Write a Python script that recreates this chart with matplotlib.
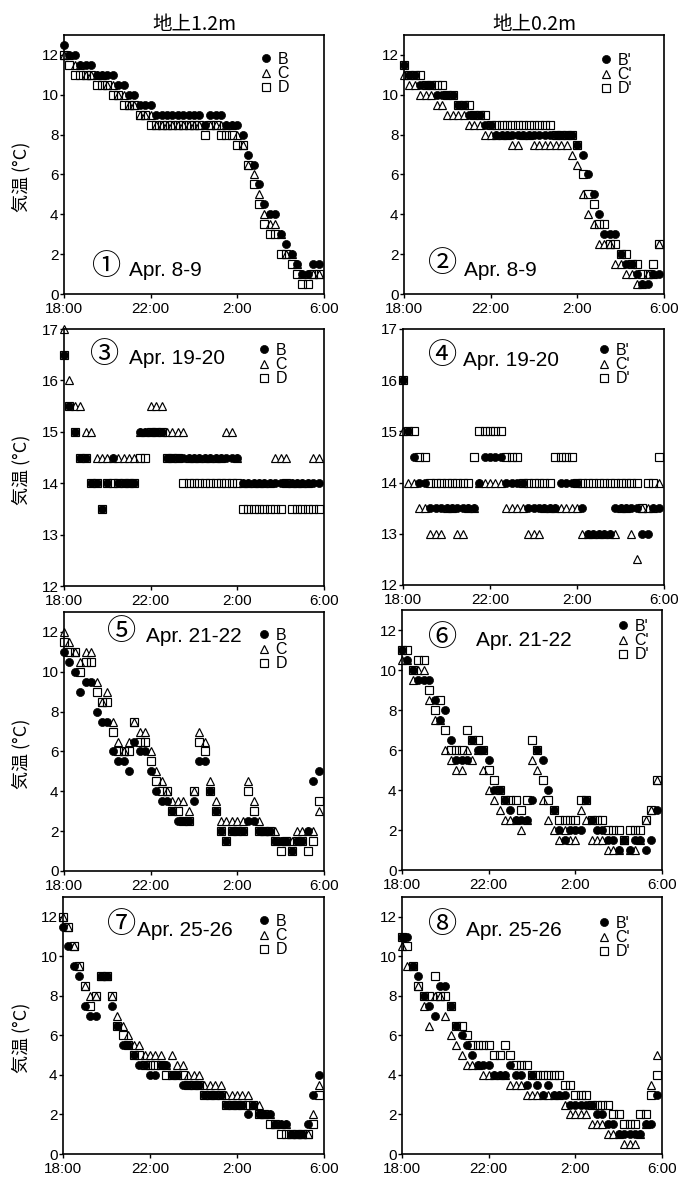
import numpy as np
import matplotlib
matplotlib.use("Agg")
import matplotlib.pyplot as plt

plt.rcParams['font.family'] = ['Liberation Sans', 'Noto Sans CJK JP', 'DejaVu Sans']

# ---- data: temperature every 15 min from 18:00 (hours since 18:00) ----
hours = np.arange(48) * 0.25
tick_pos = [0, 4, 8, 12]
tick_labels = ["18:00", "22:00", "2:00", "6:00"]

# Panel 1: Apr. 8-9, 1.2 m
B1 = [12.5,12,12,11.5,11.5,11.5,11,11,11,11,10.5,10.5,10,10,9.5,9.5,9.5,9,9,9,9,9,9,9,9,9,8.5,9,9,9,8.5,8.5,8.5,8,7,6.5,5.5,4.5,4,4,3,2.5,2,1.5,1,1,1.5,1.5]
C1 = [12,12,11.5,11.5,11,11,11,11,10.5,10.5,10,10,9.5,9.5,9,9,9,8.5,8.5,8.5,8.5,8.5,8.5,8.5,8.5,8.5,8.5,8.5,8.5,8.5,8.5,8.5,8,7.5,6.5,6,5,4,3.5,3.5,3,2,2,1.5,1,1,1,1]
D1 = [12,11.5,11,11,11,11,10.5,10.5,10.5,10,10,9.5,9.5,9.5,9,9,8.5,8.5,8.5,8.5,8.5,8.5,8.5,8.5,8.5,8.5,8,8.5,8.5,8,8,8,7.5,7.5,6.5,5.5,4.5,3.5,3,3,2,2,1.5,1,0.5,0.5,1,1]
# Panel 2: Apr. 8-9, 0.2 m
B2 = [11.5,11,11,10.5,10.5,10.5,10,10,10,10,9.5,9.5,9,9,9,8.5,8.5,8,8,8,8,8,8,8,8,8,8,8,8,8,8,8,7.5,7,6,5,4,3,3,3,2,1.5,1.5,1,0.5,0.5,1,1]
C2 = [11,10.5,10.5,10,10,10,9.5,9.5,9,9,9,9,8.5,8.5,8.5,8,8,8,8,8,7.5,7.5,8,8,7.5,7.5,7.5,7.5,7.5,7.5,7.5,7,6.5,5,4,3.5,2.5,2.5,2.5,1.5,1.5,1,1,0.5,0.5,1,1,2.5]
D2 = [11.5,11,11,11,10.5,10.5,10.5,10.5,10,10,9.5,9.5,9.5,9,9,9,8.5,8.5,8.5,8.5,8.5,8.5,8.5,8.5,8.5,8.5,8.5,8.5,8,8,8,8,7.5,6,5,4.5,3.5,3.5,2.5,2.5,2,2,1.5,1.5,1,1,1.5,2.5]
# Panel 3: Apr. 19-20, 1.2 m
B3 = [16.5,15.5,15,14.5,14.5,14,14,13.5,14,14.5,14,14,14,14,15,15,15,15,15,14.5,14.5,14.5,14.5,14.5,14.5,14.5,14.5,14.5,14.5,14.5,14.5,14.5,14.5,14,14,14,14,14,14,14,14,14,14,14,14,14,14,14]
C3 = [17,16,15.5,15.5,15,15,14.5,14.5,14.5,14.5,14.5,14.5,14.5,14.5,15,15,15.5,15.5,15.5,15,15,15,15,14.5,14.5,14.5,14.5,14.5,14.5,14.5,15,15,14.5,14,14,14,14,14,14,14.5,14.5,14.5,14,14,14,14,14.5,14.5]
D3 = [16.5,15.5,15,14.5,14.5,14,14,13.5,14,14,14,14,14,14,14.5,14.5,15,15,15,14.5,14.5,14.5,14,14,14,14,14,14,14,14,14,14,14,13.5,13.5,13.5,13.5,13.5,13.5,13.5,13.5,14,13.5,13.5,13.5,13.5,13.5,13.5]
# Panel 4: Apr. 19-20, 0.2 m
B4 = [16,15,14.5,14,14,13.5,13.5,13.5,13.5,13.5,13.5,13.5,13.5,13.5,14,14.5,14.5,14.5,14.5,14,14,14,14,13.5,13.5,13.5,13.5,13.5,13.5,14,14,14,14,13.5,13,13,13,13,13,13.5,13.5,13.5,13.5,13.5,13,13,13.5,13.5]
C4 = [15,14,14,13.5,13.5,13,13,13,13.5,13.5,13,13,13.5,13.5,14,14,14,14,14,13.5,13.5,13.5,13.5,13,13,13,13.5,13.5,13.5,13.5,13.5,13.5,13.5,13,13,13,13,13,13,13,13.5,13.5,13,12.5,13.5,13.5,13.5,14]
D4 = [16,15,15,14.5,14.5,14,14,14,14,14,14,14,14,14.5,15,15,15,15,15,14.5,14.5,14.5,14,14,14,14,14,14,14.5,14.5,14.5,14.5,14,14,14,14,14,14,14,14,14,14,14,14,13.5,14,14,14.5]
# Panel 5: Apr. 21-22, 1.2 m
B5 = [11,10.5,10,9,9.5,9.5,8,7.5,7.5,6,5.5,5.5,5,6.5,6,6,5,4,3.5,3.5,3,2.5,2.5,2.5,3.5,5.5,5.5,4,3,2,1.5,2,2,2,2.5,2.5,2,2,2,1.5,1.5,1.5,1,1.5,1.5,2,4.5,5]
C5 = [12,11.5,11,10.5,11,11,9.5,8.5,9,7.5,6.5,6,6.5,7.5,7,7,6,5,4.5,4,3.5,3.5,3.5,3,4,7,6.5,4.5,3.5,2.5,2.5,2.5,2.5,2.5,4.5,3.5,2.5,2,2,2,1.5,1.5,1.5,2,2,2,2,3]
D5 = [11.5,11,11,10,10.5,10.5,9,8.5,8.5,7,6,6,6,7.5,6.5,6.5,5.5,4.5,4,4,3,3,2.5,2.5,4,6.5,6,4,3,2,1.5,2,2,2,4,3,2,2,2,1.5,1,1.5,1,1.5,1.5,1,1.5,3.5]
# Panel 6: Apr. 21-22, 0.2 m
B6 = [11,10.5,10,9.5,9.5,9.5,8.5,7.5,8,6.5,5.5,5.5,5.5,6.5,6,6,5.5,4,4,3.5,3,2.5,2.5,2.5,3.5,6,5.5,4,3,2,1.5,2,2,2,3.5,2.5,2,2,1.5,1.5,1,1.5,1,1.5,1.5,1,1.5,3]
C6 = [10.5,10.5,9.5,10,10,8.5,7.5,7.5,6,5.5,5,5,6,5.5,6,5,4,3.5,3,2.5,2.5,2.5,2,2.5,5.5,5,3.5,2.5,2,1.5,2,1.5,1.5,3,2.5,1.5,1.5,1.5,1,1,1,1.5,1,1,1.5,2.5,3,4.5]
D6 = [11,11,10,10.5,10.5,9,8,8.5,7,6,6,6,7,6.5,6.5,6,5,4.5,4,3.5,3.5,3.5,3,3.5,6.5,6,4.5,3.5,3,2.5,2.5,2.5,2.5,3.5,3.5,2.5,2.5,2.5,2,2,2,1.5,2,2,2,2.5,3,4.5]
# Panel 7: Apr. 25-26, 1.2 m
B7 = [11.5,10.5,9.5,9,7.5,7,7,9,9,7.5,6.5,5.5,5.5,5,4.5,4.5,4,4,4.5,4.5,4,4,3.5,3.5,3.5,3.5,3,3,3,3,2.5,2.5,2.5,2.5,2,2.5,2,2,2,1.5,1.5,1.5,1,1,1,1.5,3,4]
C7 = [12,11.5,10.5,9.5,8.5,8,8,9,9,8,7,6.5,6,5.5,5.5,5,5,5,5,4.5,5,4.5,4.5,4,4,4,3.5,3.5,3.5,3.5,3,3,3,3,3,2.5,2.5,2,2,1.5,1.5,1.5,1,1,1,1,2,3.5]
D7 = [12,11.5,10.5,9.5,8.5,7.5,8,9,9,8,6.5,6,5.5,5,5,4.5,4.5,4.5,4.5,4,4,4,4,3.5,3.5,3.5,3,3,3,3,2.5,2.5,2.5,2.5,2.5,2.5,2,2,1.5,1.5,1,1,1,1,1,1,1.5,3]
# Panel 8: Apr. 25-26, 0.2 m
B8 = [11,11,9.5,9,8,7.5,7,8.5,8.5,7.5,6.5,6,5.5,5,4.5,4.5,4.5,4,4,4,4.5,4,4,3.5,4,3.5,3,3.5,3,3,3,2.5,2.5,2.5,2.5,2.5,2,2,1.5,1.5,1,1,1,1,1,1.5,1.5,3]
C8 = [10.5,9.5,9.5,8.5,7.5,6.5,8,8,7,6,5.5,5,4.5,4.5,4.5,4,4,4,4,4,3.5,3.5,3.5,3,3,3,3,3,3,3,2.5,2,2,2,2,1.5,1.5,1.5,1,1,1,0.5,0.5,0.5,1,1.5,3.5,5]
D8 = [11,10.5,9.5,8.5,8,8,9,8,8,7.5,6.5,6.5,6,5.5,5.5,5.5,5.5,5,5,5.5,5,4.5,4.5,4.5,4,4,4,4,4,4,3.5,3.5,3,3,3,2.5,2.5,2.5,2.5,2,2,1.5,1.5,1.5,2,2,3,4]

panel_nums = ["①", "②", "③", "④", "⑤", "⑥", "⑦", "⑧"]
panel_dates = ["Apr. 8-9", "Apr. 8-9", "Apr. 19-20", "Apr. 19-20",
               "Apr. 21-22", "Apr. 21-22", "Apr. 25-26", "Apr. 25-26"]
series = [(B1, C1, D1), (B2, C2, D2), (B3, C3, D3), (B4, C4, D4),
          (B5, C5, D5), (B6, C6, D6), (B7, C7, D7), (B8, C8, D8)]
names_left = ["B", "C", "D"]
names_right = ["B'", "C'", "D'"]
col_titles = ["地上1.2m", "地上0.2m"]

# ---- layout (pixels) ----
W, H = 684, 1180
fig = plt.figure(figsize=(W / 100, H / 100), dpi=100)

def rect(l, t, r, b):
    return [l / W, 1 - b / H, (r - l) / W, (b - t) / H]

boxes = [(64, 35, 324, 294), (404, 35, 664, 294),
         (64, 329, 324, 586), (403, 329, 664, 585),
         (64, 612, 324, 871), (402, 610, 662, 870),
         (63, 897, 324, 1154), (402, 897, 662, 1154)]
ylims = [(0, 13), (0, 13), (12, 17), (12, 17), (0, 13), (0, 13), (0, 13), (0, 13)]
ann = [((107, 267), (129, 271)), ((443, 264), (464, 271)),
       ((105, 355), (129, 358)), ((443, 356), (463, 360)),
       ((122, 632), (146, 636)), ((443, 638), (476, 641)),
       ((122, 925), (137, 931)), ((443, 925), (466, 931))]
leg = [(260, 52), (600, 53), (258, 343), (598, 343),
       (258, 628), (617, 619), (258, 914), (598, 916)]

for i in range(8):
    ax = fig.add_axes(rect(*boxes[i]))
    B, C, D = series[i]
    names = names_left if i % 2 == 0 else names_right
    hC, = ax.plot(hours, C, linestyle='none', marker='^', markersize=6.4,
                  markerfacecolor='white', markeredgecolor='black',
                  markeredgewidth=0.85, zorder=2, clip_on=False)
    hD, = ax.plot(hours, D, linestyle='none', marker='s', markersize=5.4,
                  markerfacecolor='none', markeredgecolor='black',
                  markeredgewidth=0.85, zorder=3, clip_on=False)
    hB, = ax.plot(hours, B, linestyle='none', marker='o', markersize=5.8,
                  markerfacecolor='black', markeredgecolor='black',
                  markeredgewidth=0.5, zorder=4, clip_on=False)
    ax.set_xlim(0, 12)
    ax.set_ylim(*ylims[i])
    ax.set_xticks(tick_pos)
    ax.set_xticklabels(tick_labels)
    if ylims[i][0] == 12:
        ax.set_yticks([12, 13, 14, 15, 16, 17])
    else:
        ax.set_yticks([0, 2, 4, 6, 8, 10, 12])
    ax.tick_params(direction='out', length=3, width=1, labelsize=11)
    ax.tick_params(axis='x', pad=3)
    ax.tick_params(axis='y', pad=1)
    for s in ax.spines.values():
        s.set_linewidth(1.2)
    lx, ly = leg[i]
    ax.legend([hB, hC, hD], names, loc='upper left',
              bbox_to_anchor=(lx / W, 1 - ly / H), bbox_transform=fig.transFigure,
              frameon=False, fontsize=11.5, handlelength=0.8, handletextpad=0.3,
              labelspacing=-0.05, borderpad=0, borderaxespad=0)
    (nx, ny), (tx, ty) = ann[i]
    fig.text(nx / W, 1 - ny / H, panel_nums[i], fontsize=21, ha='center', va='center',
             family=['Noto Sans CJK JP'])
    fig.text(tx / W, 1 - ty / H, panel_dates[i], fontsize=15, ha='left', va='center')
    if i < 2:
        ax.set_title(col_titles[i], fontsize=14, pad=3,
                     family=['Noto Sans CJK JP', 'DejaVu Sans'])
    if i % 2 == 0:
        yc = (boxes[i][1] + boxes[i][3]) / 2 + 12
        fig.text(21 / W, 1 - yc / H, "気温 (°C)", rotation=90, fontsize=13,
                 ha='center', va='center', family=['Noto Sans CJK JP', 'DejaVu Sans'])

fig.savefig("out.png", dpi=100, facecolor='white')
